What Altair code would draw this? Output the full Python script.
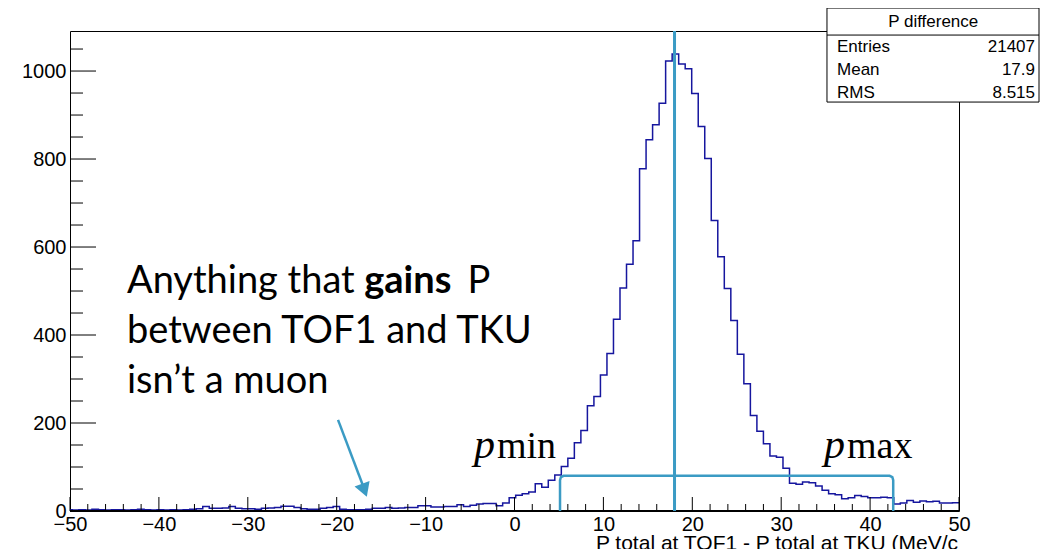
import altair as alt
import pandas as pd

# ---------------- data ----------------
BIN_LO = -60.0            # histogram lower edge
BIN_W = 110.0 / 150.0     # bin width
FIRST_BIN = 13            # first (partially) visible bin index
COUNTS = [
    3,
    2, 3, 2, 4, 3, 2, 3, 3, 2, 3,
    4, 3, 2, 3, 2, 3, 2, 3, 4, 5,
    10, 6, 6, 7, 10, 6, 5, 5, 4, 6,
    7, 8, 11, 11, 8, 5, 4, 4, 6, 8,
    10, 4, 3, 3, 3, 4, 6, 6, 8, 6,
    7, 8, 8, 12, 12, 9, 9, 10, 10, 14,
    10, 13, 16, 17, 17, 12, 18,
    30, 36, 39, 43, 62, 54, 70, 82, 101, 120,
    155, 183, 239, 260, 309, 358, 436, 507, 561, 614,
    778, 844, 878, 927, 1023, 1039, 1016, 1005, 949, 874,
    801, 660, 578, 506, 433, 356, 289, 217, 181, 153,
    125, 122, 97, 63, 61, 66, 64, 57, 47, 39,
    37, 28, 30, 35, 33, 30, 30, 31, 30, 16,
    18, 24, 20, 23, 21, 22, 18, 18, 19,
]

X_DOMAIN = [-50, 50]
Y_DOMAIN = [0, 1091]
X_LABELS = [-50, -40, -30, -20, -10, 0, 10, 20, 30, 40, 50]
X_MINOR = [v for v in range(-48, 50, 2) if v % 10 != 0]
Y_LABELS = [0, 200, 400, 600, 800, 1000]
Y_MINOR = [v for v in range(50, 1091, 50) if v % 200 != 0]

MEAN_X = 18.0
P_MIN, P_MAX, P_LEVEL = 5.12, 42.6, 80

STAT_TITLE = "P difference"
STAT_NAMES = ["Entries", "Mean", "RMS"]
STAT_VALUES = ["21407", "17.9", "8.515"]

X_TITLE = "P  total at TOF1 - P  total at TKU (MeV/c"

HIST_COLOR = "#16169e"
CYAN = "#3b9bc4"
SANS = "Liberation Sans"

# ---------------- helpers ----------------
xs = alt.Scale(domain=X_DOMAIN, nice=False, zero=False)
ys = alt.Scale(domain=Y_DOMAIN, nice=False, zero=False)
AX_X = alt.Axis(values=X_LABELS, ticks=False, domain=False, grid=False, title=None,
                labelFont=SANS, labelFontSize=20, labelColor="black", labelPadding=3,
                labelFlush=False, labelOverlap=False, format="d")
AX_Y = alt.Axis(values=Y_LABELS, ticks=False, domain=False, grid=False, title=None,
                labelFont=SANS, labelFontSize=20, labelColor="black", labelPadding=4,
                labelOverlap=False, format="d")


def X(f="x"):
    return alt.X(f"{f}:Q", scale=xs, axis=AX_X)


def Y(f="y"):
    return alt.Y(f"{f}:Q", scale=ys, axis=AX_Y)


# histogram outline
hx, hy = [], []
for i, c in enumerate(COUNTS):
    e = BIN_LO + BIN_W * (FIRST_BIN + i)
    hx.append(max(e, X_DOMAIN[0]))
    hy.append(c)
hx.append(X_DOMAIN[1])
hy.append(COUNTS[-1])
hist_df = pd.DataFrame({"x": hx, "y": hy})

hist = alt.Chart(hist_df).mark_line(
    interpolate="step-after", color=HIST_COLOR, strokeWidth=1.5, clip=True
).encode(x=X(), y=Y())

# axis ticks (inward, ROOT style)
xmaj = alt.Chart(pd.DataFrame({"x": X_LABELS})).mark_rule(color="black", strokeWidth=1).encode(
    x=X(), y=alt.value(480), y2=alt.value(466))
xmin_ = alt.Chart(pd.DataFrame({"x": X_MINOR})).mark_rule(color="black", strokeWidth=1).encode(
    x=X(), y=alt.value(480), y2=alt.value(473))
ymaj = alt.Chart(pd.DataFrame({"y": Y_LABELS})).mark_rule(color="black", strokeWidth=1).encode(
    y=Y(), x=alt.value(0), x2=alt.value(26))
ymin_ = alt.Chart(pd.DataFrame({"y": Y_MINOR})).mark_rule(color="black", strokeWidth=1).encode(
    y=Y(), x=alt.value(0), x2=alt.value(13))
bottom = alt.Chart(pd.DataFrame({"y": [0]})).mark_rule(color="black", strokeWidth=2).encode(
    y=Y(), x=alt.value(0), x2=alt.value(889))

# mean line
mean_line = alt.Chart(pd.DataFrame({"x": [MEAN_X], "y": [Y_DOMAIN[0]], "y2": [Y_DOMAIN[1]]})).mark_rule(
    color=CYAN, strokeWidth=3).encode(x=X(), y=Y(), y2="y2:Q")

# bracket p_min .. p_max
br_x = [P_MIN, P_MIN, P_MIN + 0.1, P_MIN + 0.4, P_MAX - 0.4, P_MAX - 0.1, P_MAX, P_MAX]
br_y = [0, P_LEVEL - 10, P_LEVEL - 3, P_LEVEL, P_LEVEL, P_LEVEL - 3, P_LEVEL - 10, 0]
bracket = alt.Chart(pd.DataFrame({"x": br_x, "y": br_y, "o": list(range(len(br_x)))})).mark_line(
    color=CYAN, strokeWidth=2.5).encode(x=X(), y=Y(), order="o:Q")

# p_min / p_max labels
p_df = pd.DataFrame({"x": [-4.56, 34.81], "y": [120.5, 120.5], "t": ["p", "p"]})
p_sub = pd.DataFrame({"x": [-1.97, 37.4], "y": [120.5, 120.5], "t": ["min", "max"]})
p_txt = alt.Chart(p_df).mark_text(font="Liberation Serif", fontStyle="italic", fontSize=42,
                                  align="left", baseline="alphabetic", color="black").encode(
    x=X(), y=Y(), text="t:N")
p_sub_txt = alt.Chart(p_sub).mark_text(font="Liberation Serif", fontSize=38,
                                       align="left", baseline="alphabetic", color="black").encode(
    x=X(), y=Y(), text="t:N")

# annotation text
ANN_FONT = "Lato"
ANN_SIZE = 38
ann_norm = pd.DataFrame({
    "x": [-43.59, -5.3, -43.59, -43.59],
    "y": [495.5, 495.5, 381.8, 268.2],
    "t": ["Anything that", "P", "between TOF1 and TKU", "isn\u2019t a muon"],
})
ann_bold = pd.DataFrame({"x": [-16.9], "y": [495.5], "t": ["gains"]})
ann1 = alt.Chart(ann_norm).mark_text(font=ANN_FONT, fontSize=ANN_SIZE, align="left",
                                     baseline="alphabetic", color="black").encode(x=X(), y=Y(), text="t:N")
ann2 = alt.Chart(ann_bold).mark_text(font=ANN_FONT, fontSize=ANN_SIZE, fontWeight="bold", align="left",
                                     baseline="alphabetic", color="black").encode(x=X(), y=Y(), text="t:N")

# arrow
arrow_line = alt.Chart(pd.DataFrame({"x": [-19.85, -16.9], "y": [207, 50]})).mark_line(
    color=CYAN, strokeWidth=2.5).encode(x=X(), y=Y())
arrow_head = alt.Chart(pd.DataFrame({"x": [-16.88], "y": [47.3]})).mark_point(
    shape="triangle-down", size=256, angle=340, filled=True, color=CYAN, opacity=1).encode(x=X(), y=Y())

# stats box
box = alt.Chart(pd.DataFrame({"x": [35.15], "x2": [59.0], "y": [929.5], "y2": [1143.2]})).mark_rect(
    fill="white", stroke="black", strokeWidth=1).encode(x=X(), x2="x2:Q", y=Y(), y2="y2:Q")
sep = alt.Chart(pd.DataFrame({"x": [35.15], "x2": [59.0], "y": [1081.8]})).mark_rule(
    color="black", strokeWidth=1).encode(x=X(), x2="x2:Q", y=Y())
st_title = alt.Chart(pd.DataFrame({"x": [47.1], "y": [1111.4], "t": [STAT_TITLE]})).mark_text(
    font=SANS, fontSize=17, align="center", baseline="middle", color="black").encode(x=X(), y=Y(), text="t:N")
rows_y = [1054.5, 1002.3, 950.0]
st_names = alt.Chart(pd.DataFrame({"x": [36.28] * 3, "y": rows_y, "t": STAT_NAMES})).mark_text(
    font=SANS, fontSize=17, align="left", baseline="middle", color="black").encode(x=X(), y=Y(), text="t:N")
st_vals = alt.Chart(pd.DataFrame({"x": [58.55] * 3, "y": rows_y, "t": STAT_VALUES})).mark_text(
    font=SANS, fontSize=17, align="right", baseline="middle", color="black").encode(x=X(), y=Y(), text="t:N")

# x-axis title (ROOT style, right aligned at the axis end, at the bottom edge)
xtitle = alt.Chart(pd.DataFrame({"x": [49.9], "y": [-88.6], "t": [X_TITLE]})).mark_text(
    font=SANS, fontSize=21, align="right", baseline="alphabetic", color="black").encode(x=X(), y=Y(), text="t:N")

chart = alt.layer(
    hist, xmaj, xmin_, ymaj, ymin_, bottom, bracket, mean_line,
    p_txt, p_sub_txt, ann1, ann2, arrow_line, arrow_head,
    box, sep, st_title, st_names, st_vals, xtitle,
).properties(
    width=889, height=480,
    autosize=alt.AutoSizeParams(type="none"),
    padding={"left": 62, "top": 23, "right": 81, "bottom": 38},
    background="white",
).configure_view(stroke="black", strokeWidth=1)

chart.save("out.html", embed_options={"renderer": "svg", "actions": False})
